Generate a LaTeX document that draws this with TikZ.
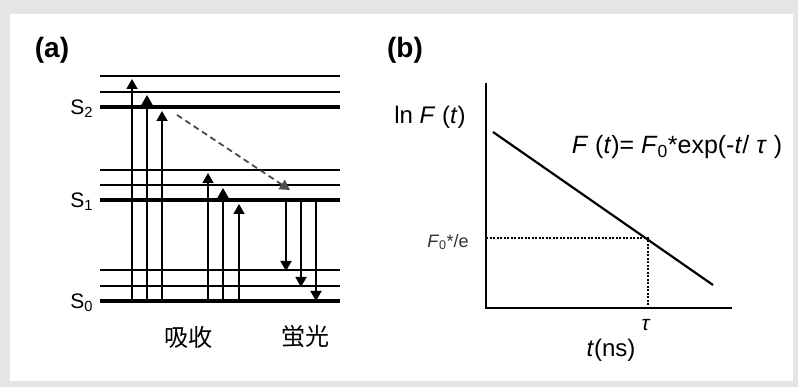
\documentclass[tikz,border=0pt]{standalone}
\usepackage{fontspec}
\setmainfont{Liberation Sans}
\newfontfamily\cjk{Noto Sans CJK JP}
\usetikzlibrary{arrows.meta}

\begin{document}
\begin{tikzpicture}[x=1pt,y=-1pt,line width=1.8pt,>={Triangle[length=10pt,width=11pt]},
    lbl/.style={inner sep=0pt,font=\fontsize{21}{21}\selectfont},
    panel/.style={inner sep=0pt,font=\bfseries\fontsize{28}{28}\selectfont}]
  \useasboundingbox (0,0) rectangle (798,387);
  \fill[black!10] (0,0) rectangle (798,387);
  \fill[white] (10,14) rectangle (793,381);
  % (a) energy levels
  \node[panel] (laba) at (52,50) {(a)};
  \foreach \y in {76,92,170,185,270,286}{ \draw[line width=1.6] (100,\y) -- (340,\y); }
  \foreach \y/\n in {107/2,200/1,301/0}{
    \draw[line width=3.2] (100,\y) -- (340,\y);
    \node[lbl,anchor=east] (S\n) at (94,\y+2) {S\textsubscript{\n}}; }
  % absorption and fluorescence
  \foreach \x/\y in {132/79,147/95,162/111,208/173,223/188,239/204}{
    \draw[->] (\x,301) -- (\x,\y); }
  \foreach \x/\y in {286/271,301/287,316/301}{
    \draw[->] (\x,200) -- (\x,\y); }
  \draw[->,black!70,dash pattern=on 6pt off 4pt] (177,115) -- (290,190);
  \node[lbl,font=\cjk\fontsize{24}{24}\selectfont] (abs) at (188,337) {吸收};
  \node[lbl,font=\cjk\fontsize{24}{24}\selectfont] (flu) at (305,337) {蛍光};
  % (b) decay plot
  \node[panel] (labb) at (405,50) {(b)};
  \draw[line width=2.6] (486,83) -- (486,308) -- (732,308);
  \draw[line width=2.2] (493,132) -- (713,285);
  \draw[line width=1.1,dash pattern=on 2pt off 1.5pt] (486,238) -- (648,238) -- (648,308);
  \node[lbl,font=\fontsize{24}{24}\selectfont] (ylab) at (430,117) {ln \textit{F} (\textit{t})};
  \node[lbl,font=\fontsize{25}{25}\selectfont] (eq) at (677,147)
    {\textit{F} (\textit{t})= \textit{F}\textsubscript{0}*exp(-\textit{t}/ \textit{τ} )};
  \node[lbl,font=\fontsize{18}{18}\selectfont,black!80] (fe) at (448,242)
    {\textit{F}\textsubscript{0}*/e};
  \node[lbl,font=\fontsize{21}{21}\selectfont] (tau) at (646,325) {\textit{τ}};
  \node[lbl,font=\fontsize{24}{24}\selectfont] (xlab) at (611,350) {\textit{t}(ns)};
\end{tikzpicture}
\end{document}
